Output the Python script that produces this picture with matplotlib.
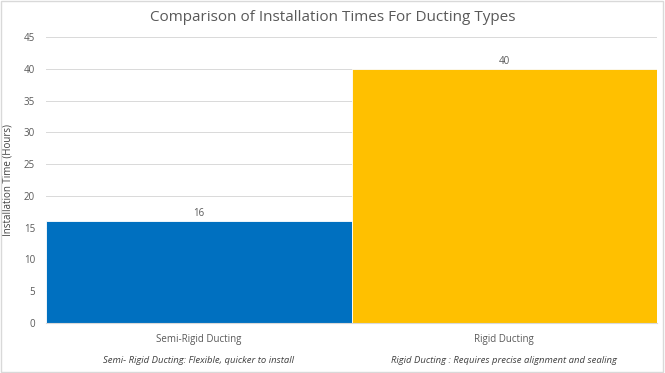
import matplotlib
matplotlib.use('Agg')
import matplotlib.pyplot as plt

categories = ['Semi-Rigid Ducting', 'Rigid Ducting']
hours = [16, 40]
colors = ['#0070C0', '#FFC000']
notes = ['Semi- Rigid Ducting: Flexible, quicker to install',
         'Rigid Ducting : Requires precise alignment and sealing']
yticks = [0, 5, 10, 15, 20, 25, 30, 35, 40, 45]

plt.rcParams['font.family'] = ['Open Sans', 'DejaVu Sans']

fig = plt.figure(figsize=(6.65, 3.73), dpi=100)
ax = fig.add_axes([0.0692, 0.134, 0.919, 0.767])

x = range(len(categories))
bars = ax.bar(x, hours, width=1.0, color=colors, edgecolor='white', linewidth=0.6, zorder=2)
for b, v in zip(bars, hours):
    ax.text(b.get_x() + b.get_width() / 2, v + 0.3, str(v), ha='center', va='bottom',
            fontsize=7, color='#595959')

ax.set_xlim(-0.5, 1.5)
ax.set_ylim(0, 45)
ax.set_yticks(yticks)
ax.tick_params(axis='y', labelsize=7, labelcolor='#595959', length=0, pad=8)
ax.set_xticks(list(x))
ax.set_xticklabels(categories)
ax.tick_params(axis='x', labelsize=7, labelcolor='#595959', length=0, pad=8)
ax.grid(axis='y', color='#D9D9D9', linewidth=0.7, zorder=0)
for s in ['top', 'right', 'left']:
    ax.spines[s].set_visible(False)
ax.spines['bottom'].set_color('#D9D9D9')

ax.set_ylabel('Installation Time (Hours)', fontsize=7, color='#404040')
ax.yaxis.set_label_coords(-0.053, 0.5)

fig.text(0.5, 0.952, 'Comparison of Installation Times For Ducting Types', ha='center',
         va='center', fontsize=11, color='#595959')
for xi, n in zip(x, notes):
    ax.text(xi, -0.13, n, transform=ax.get_xaxis_transform(), ha='center', va='center',
            fontsize=6.8, style='italic', color='#404040')

fig.patches.append(plt.Rectangle((0.002, 0.003), 0.995, 0.993, transform=fig.transFigure,
                                 fill=False, edgecolor='#D9D9D9', linewidth=1))

plt.savefig('out.png', dpi=100)
